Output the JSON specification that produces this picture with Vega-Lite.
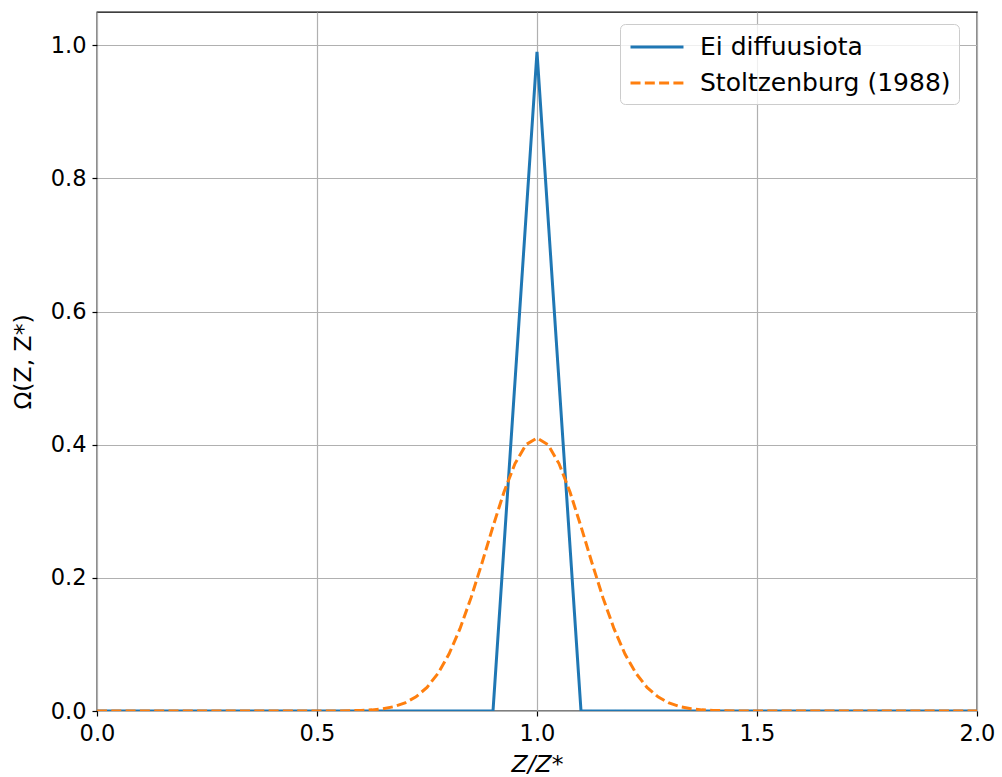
{
  "$schema": "https://vega.github.io/schema/vega-lite/v6.json",
  "width": 880,
  "height": 699,
  "autosize": "none",
  "padding": {"left": 97, "top": 12, "right": 25, "bottom": 66},
  "background": "white",
  "config": {
    "font": "DejaVu Sans",
    "view": {"stroke": "black", "strokeWidth": 1.3},
    "axis": {
      "labelFont": "DejaVu Sans",
      "labelFontSize": 22.5,
      "labelColor": "black",
      "labelFlush": false,
      "labelBound": false,
      "labelOverlap": false,
      "titleFont": "DejaVu Sans",
      "titleFontSize": 23.5,
      "titleFontWeight": "normal",
      "titleColor": "black",
      "tickColor": "black",
      "tickSize": 5,
      "tickWidth": 1.2,
      "domain": false,
      "gridColor": "#b0b0b0",
      "gridWidth": 1.2,
      "gridOpacity": 1,
      "labelPadding": 5
    }
  },
  "data": {
    "values": [
      {"x": 0.0, "y": 0.0, "series": "Ei diffuusiota"},
      {"x": 0.9, "y": 0.0, "series": "Ei diffuusiota"},
      {"x": 1.0, "y": 0.99, "series": "Ei diffuusiota"},
      {"x": 1.1, "y": 0.0, "series": "Ei diffuusiota"},
      {"x": 2.0, "y": 0.0, "series": "Ei diffuusiota"},
      {"x": 0.0, "y": 0.0, "series": "Stoltzenburg (1988)"},
      {"x": 0.5, "y": 0.0, "series": "Stoltzenburg (1988)"},
      {"x": 0.55, "y": 0.0001, "series": "Stoltzenburg (1988)"},
      {"x": 0.6, "y": 0.0008, "series": "Stoltzenburg (1988)"},
      {"x": 0.625, "y": 0.0017, "series": "Stoltzenburg (1988)"},
      {"x": 0.65, "y": 0.0034, "series": "Stoltzenburg (1988)"},
      {"x": 0.675, "y": 0.0066, "series": "Stoltzenburg (1988)"},
      {"x": 0.7, "y": 0.0121, "series": "Stoltzenburg (1988)"},
      {"x": 0.725, "y": 0.0212, "series": "Stoltzenburg (1988)"},
      {"x": 0.75, "y": 0.0355, "series": "Stoltzenburg (1988)"},
      {"x": 0.775, "y": 0.0565, "series": "Stoltzenburg (1988)"},
      {"x": 0.8, "y": 0.0856, "series": "Stoltzenburg (1988)"},
      {"x": 0.825, "y": 0.1236, "series": "Stoltzenburg (1988)"},
      {"x": 0.85, "y": 0.1699, "series": "Stoltzenburg (1988)"},
      {"x": 0.875, "y": 0.2224, "series": "Stoltzenburg (1988)"},
      {"x": 0.9, "y": 0.2772, "series": "Stoltzenburg (1988)"},
      {"x": 0.925, "y": 0.3289, "series": "Stoltzenburg (1988)"},
      {"x": 0.95, "y": 0.3717, "series": "Stoltzenburg (1988)"},
      {"x": 0.975, "y": 0.4001, "series": "Stoltzenburg (1988)"},
      {"x": 1.0, "y": 0.41, "series": "Stoltzenburg (1988)"},
      {"x": 1.025, "y": 0.4001, "series": "Stoltzenburg (1988)"},
      {"x": 1.05, "y": 0.3717, "series": "Stoltzenburg (1988)"},
      {"x": 1.075, "y": 0.3289, "series": "Stoltzenburg (1988)"},
      {"x": 1.1, "y": 0.2772, "series": "Stoltzenburg (1988)"},
      {"x": 1.125, "y": 0.2224, "series": "Stoltzenburg (1988)"},
      {"x": 1.15, "y": 0.1699, "series": "Stoltzenburg (1988)"},
      {"x": 1.175, "y": 0.1236, "series": "Stoltzenburg (1988)"},
      {"x": 1.2, "y": 0.0856, "series": "Stoltzenburg (1988)"},
      {"x": 1.225, "y": 0.0565, "series": "Stoltzenburg (1988)"},
      {"x": 1.25, "y": 0.0355, "series": "Stoltzenburg (1988)"},
      {"x": 1.275, "y": 0.0212, "series": "Stoltzenburg (1988)"},
      {"x": 1.3, "y": 0.0121, "series": "Stoltzenburg (1988)"},
      {"x": 1.325, "y": 0.0066, "series": "Stoltzenburg (1988)"},
      {"x": 1.35, "y": 0.0034, "series": "Stoltzenburg (1988)"},
      {"x": 1.375, "y": 0.0017, "series": "Stoltzenburg (1988)"},
      {"x": 1.4, "y": 0.0008, "series": "Stoltzenburg (1988)"},
      {"x": 1.45, "y": 0.0001, "series": "Stoltzenburg (1988)"},
      {"x": 1.5, "y": 0.0, "series": "Stoltzenburg (1988)"},
      {"x": 2.0, "y": 0.0, "series": "Stoltzenburg (1988)"}
    ]
  },
  "mark": {"type": "line", "strokeWidth": 3, "clip": true},
  "encoding": {
    "x": {
      "field": "x",
      "type": "quantitative",
      "scale": {"domain": [0, 2], "nice": false, "zero": false},
      "axis": {"values": [0, 0.5, 1.0, 1.5, 2.0], "format": ".1f", "title": "Z/Z*", "titleFontStyle": "italic", "titlePadding": 8, "labelPadding": 6}
    },
    "y": {
      "field": "y",
      "type": "quantitative",
      "scale": {"domain": [0, 1.05], "nice": false},
      "axis": {"values": [0, 0.2, 0.4, 0.6, 0.8, 1.0], "format": ".1f", "title": "Ω(Z, Z*)", "titlePadding": 15, "labelPadding": 6}
    },
    "color": {
      "field": "series",
      "type": "nominal",
      "scale": {"domain": ["Ei diffuusiota", "Stoltzenburg (1988)"], "range": ["#1f77b4", "#ff7f0e"]},
      "legend": {
        "title": null,
        "orient": "none",
        "legendX": 523,
        "legendY": 12,
        "labelFontSize": 25,
        "labelFont": "DejaVu Sans",
        "labelColor": "black",
        "labelLimit": 500,
        "symbolType": "M-2,0H2",
        "symbolSize": 702,
        "symbolStrokeWidth": 3,
        "symbolOffset": 14,
        "labelOffset": 28,
        "rowPadding": 8,
        "padding": 8,
        "strokeColor": "#cccccc",
        "cornerRadius": 5,
        "fillColor": "rgba(255,255,255,0.8)"
      }
    },
    "strokeDash": {
      "field": "series",
      "type": "nominal",
      "scale": {"domain": ["Ei diffuusiota", "Stoltzenburg (1988)"], "range": [[1, 0], [10, 4.3]]},
      "legend": null
    }
  }
}
